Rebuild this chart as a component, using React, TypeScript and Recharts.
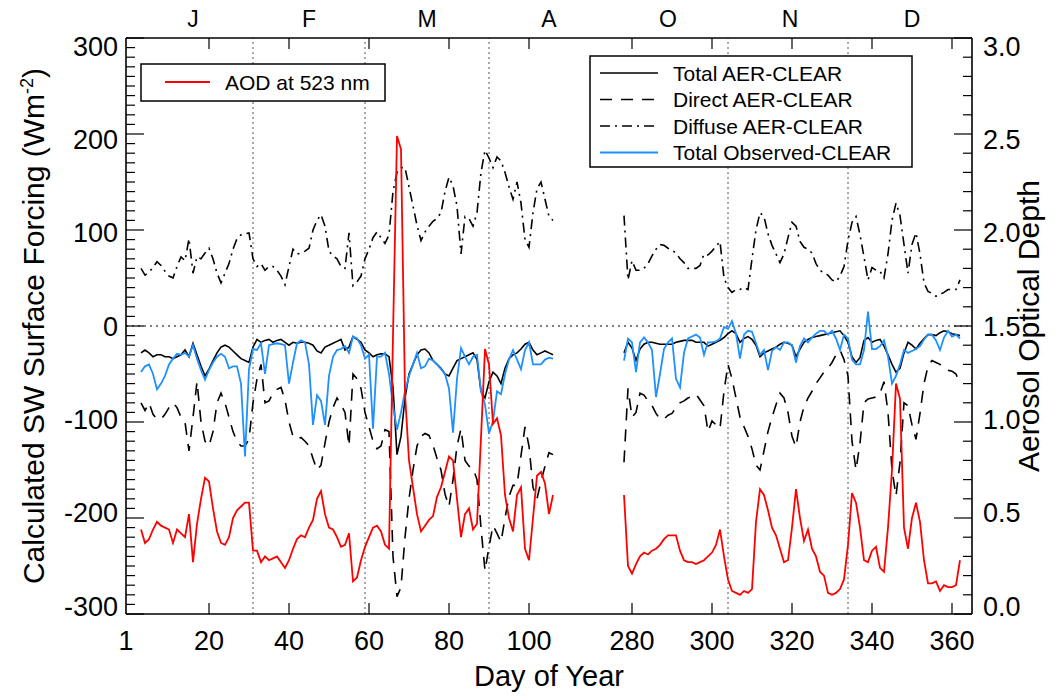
import React from 'react';
import { LineChart, Line, XAxis, YAxis, ReferenceLine, Label } from 'recharts';

const FONT = '"Liberation Sans", Arial, Helvetica, sans-serif';
const BLUE = '#1E90FF';
const RED = '#FF0000';

// the autumn days are pulled left so both observing periods share one axis
const GAP_SHIFT = 154.25;
const X_MIN = -0.75;
const X_MAX = 210.75;

const WINTER_FIRST_DAY = 3;   // days 3..106
const AUTUMN_FIRST_DAY = 278; // days 278..362

const winterTotal = [
  -28, -25, -28, -32, -30, -30, -32, -32, -34, -32,
  -30, -25, -32, -18, -30, -42, -52, -45, -36, -28,
  -22, -20, -22, -26, -30, -34, -36, -38, -22, -14,
  -17, -15, -14, -17, -15, -14, -17, -20, -17, -18,
  -17, -17, -18, -20, -26, -28, -22, -20, -18, -16,
  -14, -25, -22, -11, -14, -17, -25, -28, -32, -30,
  -29, -29, -32, -64, -134, -115, -75, -50, -40, -30,
  -25, -24, -28, -36, -40, -44, -50, -52, -44, -36,
  -34, -32, -30, -28, -35, -68, -75, -58, -48, -52,
  -60, -44, -34, -30, -28, -24, -19, -17, -25, -30,
  -28, -26, -28, -30,
];
const winterDirect = [
  -80, -88, -80, -92, -97, -97, -92, -85, -80, -85,
  -95, -100, -130, -95, -58, -100, -120, -125, -110, -80,
  -70, -80, -95, -110, -120, -125, -125, -118, -80, -55,
  -40, -80, -78, -70, -66, -64, -77, -100, -115, -118,
  -116, -120, -125, -138, -150, -145, -122, -100, -85, -75,
  -82, -90, -125, -50, -55, -65, -90, -105, -120, -128,
  -125, -108, -110, -240, -282, -272, -220, -180, -150, -125,
  -115, -112, -114, -124, -138, -150, -175, -188, -160, -125,
  -107, -140, -146, -148, -160, -210, -255, -230, -208, -216,
  -225, -200, -178, -166, -166, -135, -105, -125, -168, -180,
  -162, -146, -132, -134,
];
const winterDiffuse = [
  60, 53, 56, 61, 67, 63, 57, 52, 50, 62,
  72, 68, 91, 55, 72, 70, 76, 81, 70, 55,
  45, 55, 65, 80, 91, 95, 96, 97, 70, 62,
  65, 58, 62, 62, 58, 52, 43, 62, 80, 75,
  76, 78, 81, 100, 110, 116, 104, 78, 73, 70,
  62, 60, 97, 42, 46, 52, 70, 80, 92, 98,
  92, 86, 95, 140, 160, 165, 165, 145, 125, 105,
  89, 98, 104, 109, 112, 118, 140, 155, 146, 125,
  75, 114, 112, 104, 118, 160, 183, 175, 165, 176,
  172, 160, 145, 132, 150, 128, 90, 82, 118, 143,
  150, 132, 114, 110,
];
const winterObserved = [
  -48, -42, -40, -50, -66, -60, -52, -40, -34, -29,
  -30, -28, -32, -20, -34, -46, -56, -46, -38, -32,
  -29, -32, -44, -42, -42, -60, -136, -45, -24, -25,
  -18, -50, -20, -19, -18, -19, -20, -60, -38, -18,
  -15, -17, -40, -103, -72, -78, -103, -52, -32, -25,
  -24, -21, -28, -11, -13, -20, -34, -30, -107, -32,
  -32, -28, -50, -83, -108, -90, -68, -52, -40, -28,
  -44, -42, -34, -36, -40, -45, -50, -65, -111, -55,
  -23, -32, -40, -32, -30, -68, -82, -112, -99, -68,
  -71, -50, -35, -25, -35, -45, -25, -17, -40, -40,
  -40, -35, -33, -34,
];
const winterAod = [
  0.44, 0.37, 0.39, 0.44, 0.48, 0.46, 0.45, 0.44, 0.37, 0.44,
  0.42, 0.40, 0.52, 0.27, 0.47, 0.60, 0.71, 0.69, 0.55, 0.43,
  0.37, 0.36, 0.40, 0.50, 0.54, 0.56, 0.58, 0.58, 0.33, 0.33,
  0.27, 0.30, 0.28, 0.29, 0.30, 0.27, 0.24, 0.28, 0.34, 0.39,
  0.41, 0.40, 0.45, 0.49, 0.60, 0.64, 0.52, 0.45, 0.44, 0.40,
  0.35, 0.36, 0.42, 0.17, 0.19, 0.28, 0.35, 0.40, 0.45, 0.46,
  0.43, 0.36, 0.34, 1.45, 2.49, 2.42, 1.15, 0.80, 0.66, 0.52,
  0.43, 0.46, 0.49, 0.51, 0.61, 0.66, 0.74, 0.82, 0.80, 0.60,
  0.40, 0.52, 0.55, 0.44, 0.47, 0.92, 1.38, 1.30, 0.99, 1.02,
  0.93, 0.62, 0.50, 0.43, 0.62, 0.66, 0.34, 0.28, 0.50, 0.72,
  0.74, 0.68, 0.52, 0.62,
];

const autumnTotal = [
  -28, -17, -23, -36, -24, -19, -17, -17, -18, -19,
  -19, -19, -19, -17, -16, -15, -15, -15, -17, -17,
  -17, -21, -19, -17, -15, -12, -8, -5, -8, -17,
  -13, -11, -14, -20, -32, -28, -26, -24, -22, -19,
  -17, -18, -20, -32, -24, -17, -14, -12, -11, -10,
  -9, -8, -7, -6, -5, -10, -17, -32, -38, -33,
  -15, -12, -17, -15, -14, -21, -30, -40, -48, -44,
  -28, -17, -20, -24, -18, -13, -9, -9, -10, -7,
  -5, -6, -8, -9, -10,
];
const autumnDirect = [
  -142, -65, -95, -90, -70, -72, -78, -83, -91, -97,
  -97, -93, -91, -85, -80, -78, -75, -73, -71, -77,
  -83, -110, -99, -103, -107, -68, -40, -55, -75, -95,
  -105, -115, -128, -145, -150, -130, -110, -95, -82, -70,
  -75, -90, -115, -126, -100, -84, -75, -68, -60, -54,
  -48, -44, -38, -30, -25, -35, -52, -120, -150, -122,
  -80, -76, -75, -74, -70, -58, -90, -150, -177, -142,
  -80, -83, -103, -118, -91, -60, -42, -36, -38, -40,
  -44, -46, -47, -50, -60,
];
const autumnDiffuse = [
  115, 48, 68, 58, 58, 60, 65, 73, 80, 85,
  84, 81, 79, 76, 70, 66, 60, 60, 60, 63,
  75, 74, 78, 83, 88, 50, 40, 35, 38, 38,
  40, 38, 70, 100, 118, 114, 96, 84, 75, 66,
  75, 92, 108, 104, 88, 82, 80, 76, 65, 58,
  55, 53, 48, 46, 52, 62, 89, 108, 114, 95,
  72, 48, 61, 58, 57, 50, 75, 110, 128, 115,
  85, 55, 85, 97, 75, 45, 36, 34, 31, 33,
  35, 38, 38, 38, 48,
];
const autumnObserved = [
  -36, -13, -17, -48, -17, -12, -17, -25, -74, -50,
  -24, -17, -13, -55, -64, -28, -13, -11, -9, -12,
  -30, -17, -17, -16, -13, -1, -3, 5, -8, -34,
  -9, -5, -6, -18, -30, -25, -46, -26, -22, -25,
  -17, -17, -20, -38, -21, -13, -17, -12, -8, -5,
  -5, -9, -5, -13, -25, -9, -13, -35, -40, -40,
  -25, 15, -24, -24, -21, -15, -32, -60, -52, -40,
  -25, -28, -26, -24, -21, -14, -9, -9, -15, -25,
  -12, -5, -11, -9, -13,
];
const autumnAod = [
  0.62, 0.25, 0.21, 0.26, 0.30, 0.32, 0.31, 0.33, 0.34, 0.36,
  0.39, 0.41, 0.41, 0.41, 0.33, 0.28, 0.27, 0.27, 0.26, 0.27,
  0.28, 0.30, 0.32, 0.36, 0.44, 0.30, 0.18, 0.12, 0.11, 0.10,
  0.12, 0.11, 0.13, 0.48, 0.65, 0.62, 0.54, 0.45, 0.41, 0.34,
  0.27, 0.28, 0.45, 0.65, 0.50, 0.38, 0.44, 0.34, 0.30, 0.22,
  0.20, 0.11, 0.10, 0.11, 0.13, 0.18, 0.36, 0.63, 0.58, 0.45,
  0.28, 0.27, 0.33, 0.35, 0.24, 0.22, 0.45, 0.75, 1.20, 1.12,
  0.45, 0.34, 0.50, 0.58, 0.48, 0.28, 0.16, 0.16, 0.17, 0.12,
  0.15, 0.14, 0.14, 0.15, 0.28,
];

const bottomTickDays = [1, 20, 40, 60, 80, 100, 280, 300, 320, 340, 360];
const monthEndDays = [31, 59, 90, 304, 334];
const monthLetters = ['J', 'F', 'M', 'A', 'O', 'N', 'D'];
const monthMidDays = [16, 45, 74.5, 105, 289, 319.5, 350];

const series = [
  { key: 'diffuse', name: 'Diffuse AER-CLEAR', color: '#000', dash: '10 5 2 5', width: 1.6 },
  { key: 'direct', name: 'Direct AER-CLEAR', color: '#000', dash: '12 9', width: 1.6 },
  { key: 'total', name: 'Total AER-CLEAR', color: '#000', dash: undefined, width: 1.6 },
  { key: 'observed', name: 'Total Observed-CLEAR', color: BLUE, dash: undefined, width: 1.8 },
];
const legendOrder = ['total', 'direct', 'diffuse', 'observed'];

const toX = (day: number) => (day > 200 ? day - GAP_SHIFT : day);
const bottomTickX = bottomTickDays.map((d) => (d === 1 ? X_MIN : toX(d)));
const monthX = monthMidDays.map(toX);
const topTicks = [...bottomTickX.slice(1), ...monthX];

const forcingTicks: number[] = [];
for (let v = -300; v <= 300; v += 10) forcingTicks.push(v);
const aodTicks: number[] = [];
for (let i = 0; i <= 30; i++) aodTicks.push(i / 10);

type Row = {
  x: number;
  total: number | null;
  direct: number | null;
  diffuse: number | null;
  observed: number | null;
  aod: number | null;
};

const rows: Row[] = [];
winterTotal.forEach((_, i) => {
  rows.push({
    x: toX(WINTER_FIRST_DAY + i),
    total: winterTotal[i],
    direct: winterDirect[i],
    diffuse: winterDiffuse[i],
    observed: winterObserved[i],
    aod: winterAod[i],
  });
});
// empty row so the lines break over the missing months
rows.push({ x: 115, total: null, direct: null, diffuse: null, observed: null, aod: null });
autumnTotal.forEach((_, i) => {
  rows.push({
    x: toX(AUTUMN_FIRST_DAY + i),
    total: autumnTotal[i],
    direct: autumnDirect[i],
    diffuse: autumnDiffuse[i],
    observed: autumnObserved[i],
    aod: autumnAod[i],
  });
});

const BottomTick = (props: any) => {
  const { x, y, payload } = props;
  const i = bottomTickX.indexOf(payload.value);
  return (
    <g>
      {i > 0 && <line x1={x} x2={x} y1={y} y2={y - 11} stroke="#000" strokeWidth={1.2} />}
      <text x={x} y={y + 36} textAnchor="middle" fontSize={27} fontFamily={FONT} fill="#000">
        {bottomTickDays[i]}
      </text>
    </g>
  );
};

const TopTick = (props: any) => {
  const { x, y, payload } = props;
  const m = monthX.indexOf(payload.value);
  if (m >= 0) {
    return (
      <text x={x} y={y - 11} textAnchor="middle" fontSize={23} fontFamily={FONT} fill="#000">
        {monthLetters[m]}
      </text>
    );
  }
  return <line x1={x} x2={x} y1={y} y2={y + 11} stroke="#000" strokeWidth={1.2} />;
};

const LeftTick = (props: any) => {
  const { x, y, payload } = props;
  const v = payload.value as number;
  const major = v % 100 === 0;
  return (
    <g>
      <line x1={x} x2={x + (major ? 18 : 9)} y1={y} y2={y} stroke="#000" strokeWidth={1.2} />
      {major && (
        <text x={x - 8} y={y + v * 0.027 + 9.7} textAnchor="end" fontSize={27} fontFamily={FONT} fill="#000">
          {v}
        </text>
      )}
    </g>
  );
};

const RightTick = (props: any) => {
  const { x, y, payload } = props;
  const v = payload.value as number;
  const major = Math.round(v * 10) % 5 === 0;
  return (
    <g>
      <line x1={x} x2={x - (major ? 18 : 9)} y1={y} y2={y} stroke="#000" strokeWidth={1.2} />
      {major && (
        <text x={x + 11} y={y + (v - 1.5) * 5.4 + 9.7} textAnchor="start" fontSize={27} fontFamily={FONT} fill="#000">
          {v.toFixed(1)}
        </text>
      )}
    </g>
  );
};

const LeftTitle = (props: any) => {
  const vb = props.viewBox;
  return (
    <text
      transform={`translate(${vb.x + 33},${vb.y + vb.height / 2}) rotate(-90)`}
      textAnchor="middle"
      dy={10.5}
      fontSize={30}
      fontFamily={FONT}
      fill="#000"
    >
      Calculated SW Surface Forcing (Wm
      <tspan dy={-11} fontSize={18}>-2</tspan>
      <tspan dy={11}>)</tspan>
    </text>
  );
};

const RightTitle = (props: any) => {
  const vb = props.viewBox;
  return (
    <text
      transform={`translate(${vb.x + 56},${vb.y + vb.height / 2}) rotate(-90)`}
      textAnchor="middle"
      dy={10.5}
      fontSize={30}
      fontFamily={FONT}
      fill="#000"
    >
      Aerosol Optical Depth
    </text>
  );
};

const BottomTitle = (props: any) => {
  const vb = props.viewBox;
  return (
    <text x={vb.x + vb.width / 2} y={vb.y + 72} textAnchor="middle" fontSize={29} fontFamily={FONT} fill="#000">
      Day of Year
    </text>
  );
};

const axisLine = { stroke: '#000', strokeWidth: 1.6 };

export default function App() {
  return (
    <div style={{ position: 'absolute', left: 0, top: 0, width: 1056, height: 696, background: '#fff' }}>
      <LineChart width={1056} height={696} data={rows} margin={{ top: 0, right: 0, bottom: 0, left: 0 }}>
        <XAxis
          dataKey="x"
          type="number"
          domain={[X_MIN, X_MAX]}
          ticks={bottomTickX}
          interval={0}
          height={82}
          tickSize={0}
          tickMargin={0}
          tickLine={false}
          axisLine={axisLine}
          tick={BottomTick}
        >
          <Label content={BottomTitle} />
        </XAxis>
        <XAxis
          xAxisId="top"
          dataKey="x"
          type="number"
          orientation="top"
          domain={[X_MIN, X_MAX]}
          ticks={topTicks}
          interval={0}
          height={38}
          tickSize={0}
          tickMargin={0}
          tickLine={false}
          axisLine={axisLine}
          tick={TopTick}
        />
        <YAxis
          yAxisId="f"
          type="number"
          domain={[-300, 300]}
          ticks={forcingTicks}
          interval={0}
          width={126}
          tickSize={0}
          tickMargin={0}
          tickLine={false}
          axisLine={axisLine}
          tick={LeftTick}
        >
          <Label content={LeftTitle} />
        </YAxis>
        <YAxis
          yAxisId="a"
          orientation="right"
          type="number"
          domain={[0, 3]}
          ticks={aodTicks}
          interval={0}
          width={84}
          tickSize={0}
          tickMargin={0}
          tickLine={false}
          axisLine={axisLine}
          tick={RightTick}
        >
          <Label content={RightTitle} />
        </YAxis>

        <ReferenceLine yAxisId="f" y={0} stroke="#000" strokeWidth={1} strokeDasharray="2 4" />
        {monthEndDays.map((d) => (
          <ReferenceLine key={d} yAxisId="f" x={toX(d)} stroke="#555" strokeWidth={1} strokeDasharray="2 3" />
        ))}

        {series.map((s) => (
          <Line
            key={s.key}
            yAxisId="f"
            dataKey={s.key}
            type="linear"
            stroke={s.color}
            strokeWidth={s.width}
            strokeDasharray={s.dash}
            dot={false}
            activeDot={false}
            connectNulls={false}
            isAnimationActive={false}
          />
        ))}
        <Line
          yAxisId="a"
          dataKey="aod"
          type="linear"
          stroke={RED}
          strokeWidth={1.8}
          dot={false}
          activeDot={false}
          connectNulls={false}
          isAnimationActive={false}
        />
      </LineChart>

      <svg width={1056} height={696} style={{ position: 'absolute', left: 0, top: 0, pointerEvents: 'none' }}>
        <rect x={141} y={64} width={244} height={37} fill="#fff" stroke="#000" strokeWidth={1.5} />
        <line x1={165} x2={210} y1={82} y2={82} stroke={RED} strokeWidth={1.8} />
        <text x={225} y={89.5} fontSize={21} fontFamily={FONT} fill="#000">AOD at 523 nm</text>

        <rect x={590} y={56} width={322} height={111} fill="#fff" stroke="#000" strokeWidth={1.5} />
        {legendOrder.map((k, i) => {
          const s = series.find((e) => e.key === k)!;
          const cy = 73 + i * 26.5;
          return (
            <g key={k}>
              <line x1={600} x2={658} y1={cy} y2={cy} stroke={s.color} strokeWidth={s.width} strokeDasharray={s.dash} />
              <text x={673} y={cy + 7.5} fontSize={21} fontFamily={FONT} fill="#000">{s.name}</text>
            </g>
          );
        })}
      </svg>
    </div>
  );
}
